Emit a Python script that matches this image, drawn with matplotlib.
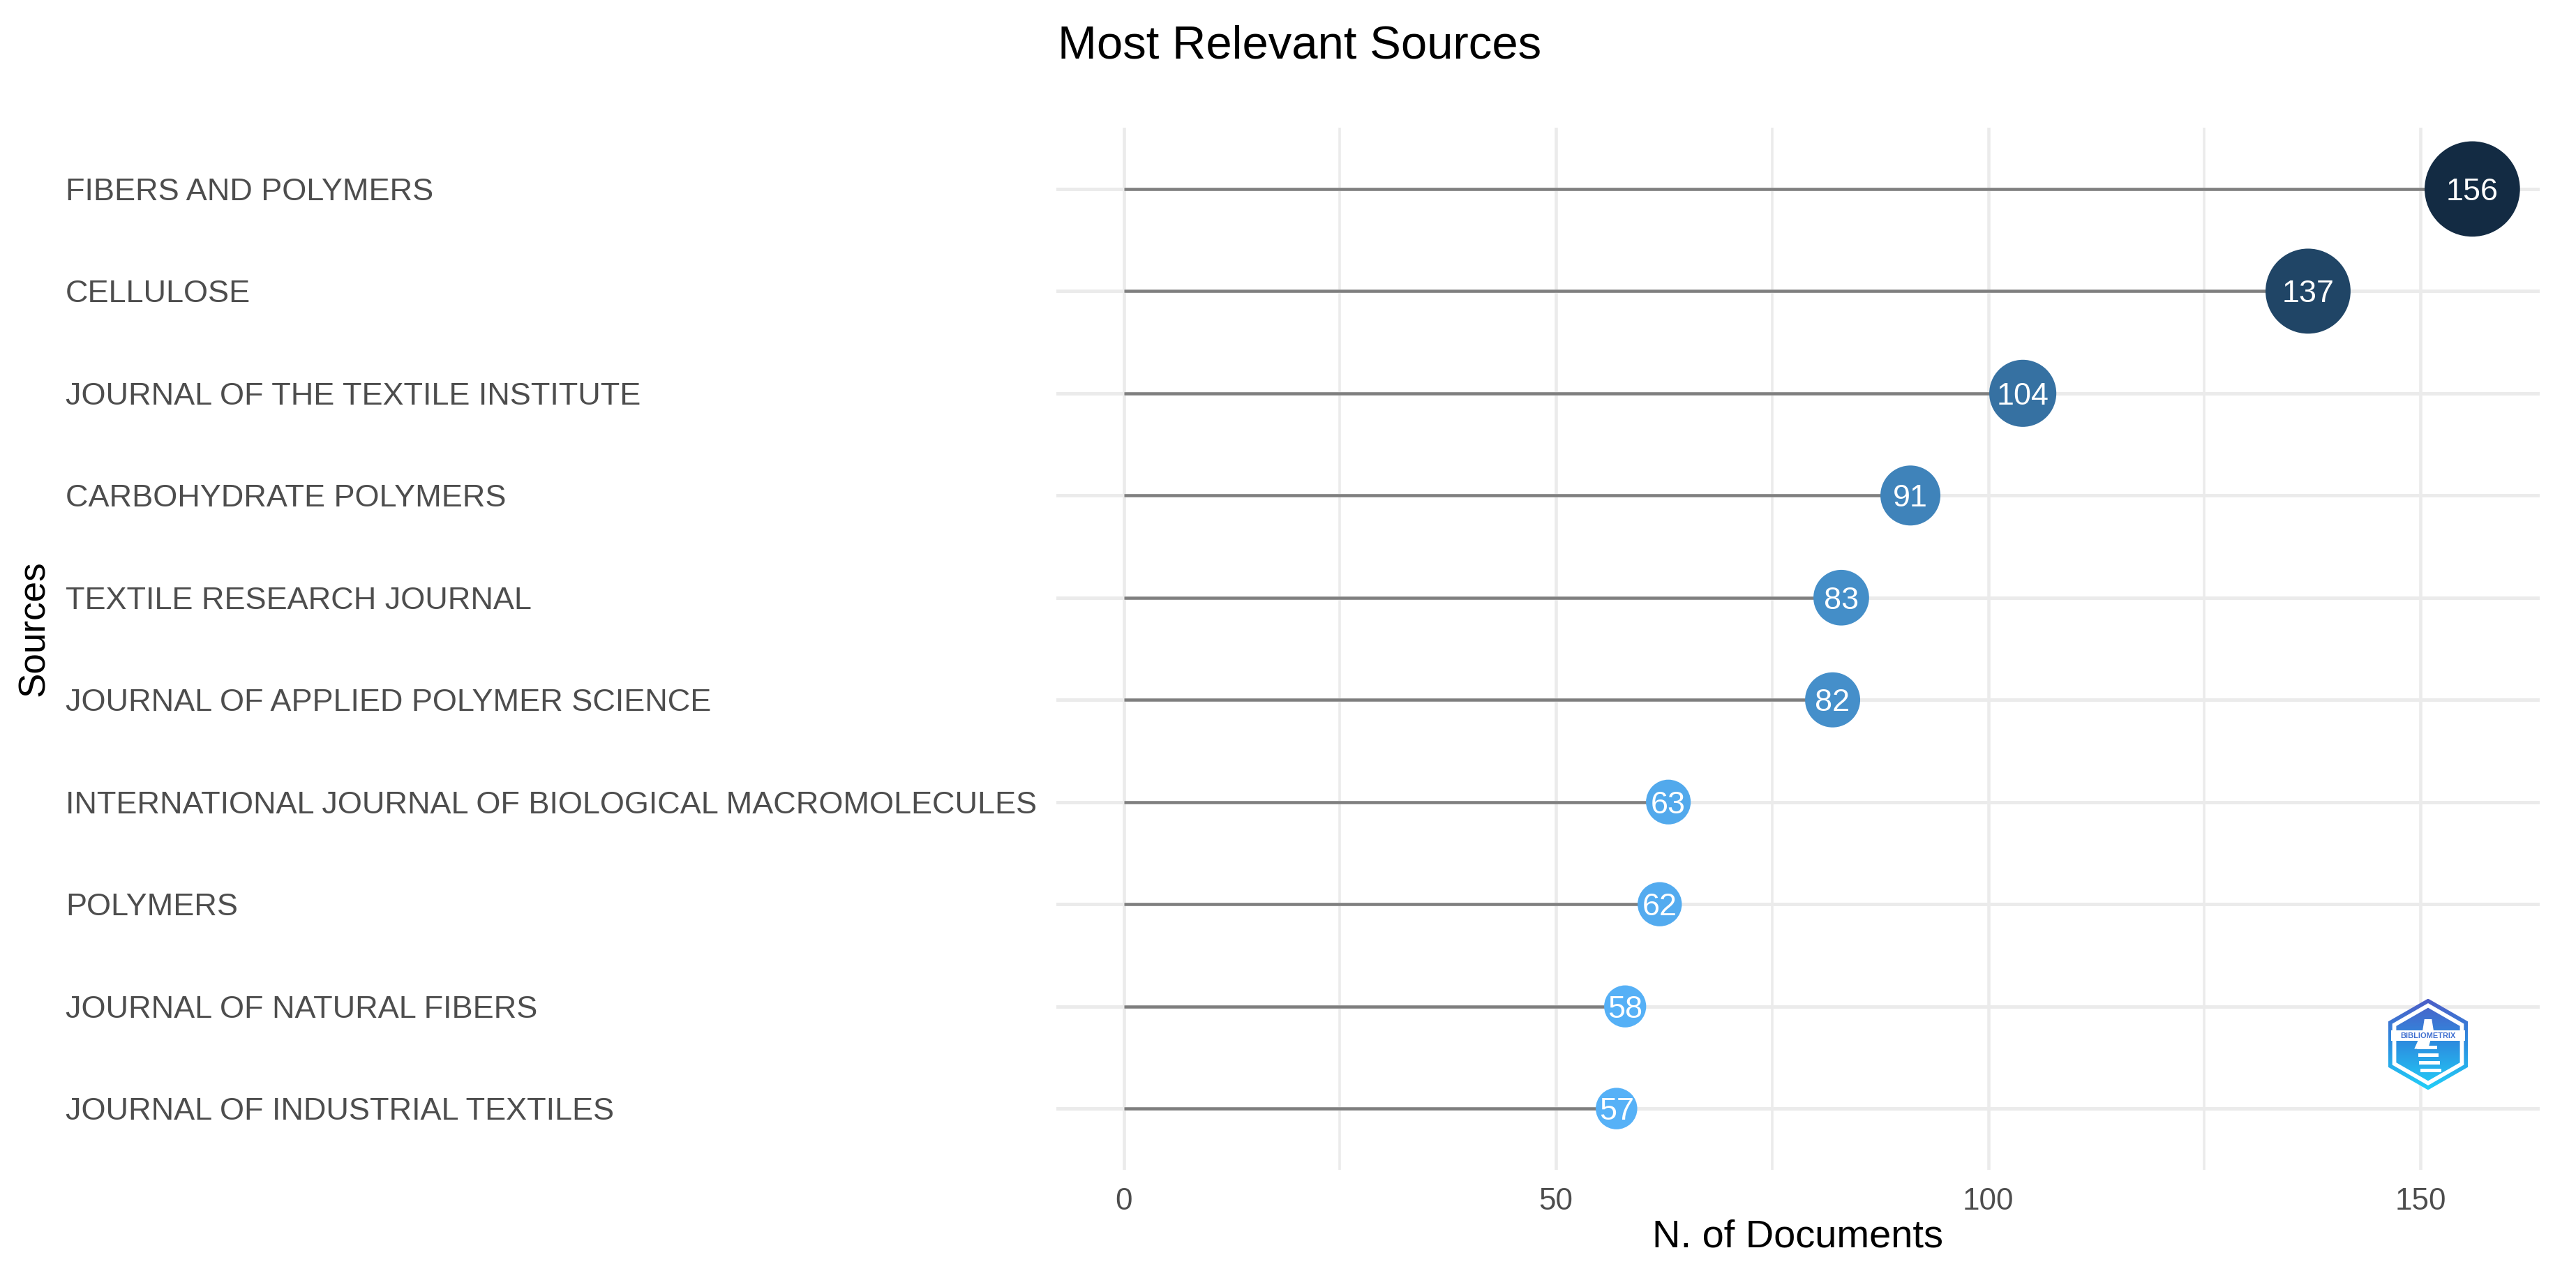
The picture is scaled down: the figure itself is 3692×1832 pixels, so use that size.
import numpy as np
import matplotlib
matplotlib.use("Agg")
import matplotlib.pyplot as plt
import matplotlib.transforms as mtransforms
from matplotlib.colors import LinearSegmentedColormap, Normalize
from matplotlib.patches import Polygon, Rectangle

# ---------------- data ----------------
sources = [
    "FIBERS AND POLYMERS",
    "CELLULOSE",
    "JOURNAL OF THE TEXTILE INSTITUTE",
    "CARBOHYDRATE POLYMERS",
    "TEXTILE RESEARCH JOURNAL",
    "JOURNAL OF APPLIED POLYMER SCIENCE",
    "INTERNATIONAL JOURNAL OF BIOLOGICAL MACROMOLECULES",
    "POLYMERS",
    "JOURNAL OF NATURAL FIBERS",
    "JOURNAL OF INDUSTRIAL TEXTILES",
]
documents = [156, 137, 104, 91, 83, 82, 63, 62, 58, 57]
x_ticks = [0, 50, 100, 150]
x_minor_ticks = [25, 75, 125]
title = "Most Relevant Sources"
x_label = "N. of Documents"
y_label = "Sources"

# ---------------- setup ----------------
plt.rcParams['font.family'] = ['Liberation Sans', 'DejaVu Sans']
W, H = 3692, 1832
DPI = 100
fig = plt.figure(figsize=(W / DPI, H / DPI), dpi=DPI)
fig.patch.set_facecolor('white')


def pt(p):
    """pixels -> points"""
    return p * 72.0 / DPI


L, R, T, B = 1514, 3640, 183, 1677
ax = fig.add_axes([L / W, 1 - B / H, (R - L) / W, (B - T) / H])
n = len(sources)
ypos = np.arange(n)
ax.set_ylim(n - 1 + 0.6, -0.6)
xmax = max(documents)
ax.set_xlim(-0.05 * xmax, 1.05 * xmax)
for s in ax.spines.values():
    s.set_visible(False)

ax.set_xticks(x_ticks)
ax.set_xticks(x_minor_ticks, minor=True)
ax.set_xticklabels([str(t) for t in x_ticks], fontsize=pt(44), color='#4D4D4D')
ax.set_yticks(ypos)
ax.set_yticklabels([])
ax.tick_params(axis='both', which='both', length=0)
ax.tick_params(axis='x', pad=pt(25))

ax.grid(axis='x', which='major', color='#EBEBEB', lw=pt(4.5))
ax.grid(axis='x', which='minor', color='#EBEBEB', lw=pt(3.5))
ax.grid(axis='y', which='major', color='#EBEBEB', lw=pt(5))
ax.set_axisbelow(True)

# segments
ax.hlines(ypos, 0, documents, color='#7F7F7F', lw=pt(4.5), zorder=2)

# points
cmap = LinearSegmentedColormap.from_list('bx', ['#56B1F7', '#132B43'])
norm = Normalize(min(documents), max(documents))
docs = np.array(documents, dtype=float)
diam_px = 15 + 0.78 * docs
ax.scatter(docs, ypos, s=pt(diam_px) ** 2, c=cmap(norm(docs)),
           edgecolors='none', zorder=3)
for v, y in zip(documents, ypos):
    ax.text(v, y, str(v), color='white', ha='center', va='center_baseline',
            fontsize=pt(45), zorder=4)

# y labels, left aligned
trans = mtransforms.blended_transform_factory(fig.transFigure, ax.transData)
for lab, y in zip(sources, ypos):
    ax.text(94 / W, y, lab, transform=trans, ha='left', va='center_baseline',
            fontsize=pt(45), color='#4D4D4D', clip_on=False)

# titles
fig.text(1516 / W, 1 - 66 / H, title, ha='left', va='center',
         fontsize=pt(67), color='black')
fig.text(2577 / W, 1 - 1773 / H, x_label, ha='center', va='center',
         fontsize=pt(56), color='black')
fig.text(49 / W, 1 - 901 / H, y_label, ha='center', va='center',
         rotation=90, fontsize=pt(53), color='black')

# ---------------- logo ----------------
lw_px, lh_px = 114, 131
cx, cy = 3480, 1497
lax = fig.add_axes([(cx - lw_px / 2) / W, 1 - (cy + lh_px / 2) / H, lw_px / W, lh_px / H])
lax.set_xlim(-np.sqrt(3) / 2, np.sqrt(3) / 2)
lax.set_ylim(-1, 1)
lax.axis('off')


def hexagon(r):
    ang = np.deg2rad(90 + 60 * np.arange(6))
    return np.column_stack([r * np.cos(ang), r * np.sin(ang)])


grad_cmap = LinearSegmentedColormap.from_list('lg', ['#22CFF8', '#2C8FE0', '#4E5CC6'])
grad = np.linspace(0, 1, 256).reshape(-1, 1)
ext = (-1, 1, -1, 1)
outer = Polygon(hexagon(1.0), closed=True, transform=lax.transData, facecolor='none', edgecolor='none')
lax.add_patch(outer)
im1 = lax.imshow(grad, cmap=grad_cmap, extent=ext, origin='lower', aspect='auto', zorder=1)
im1.set_clip_path(outer)
lax.add_patch(Polygon(hexagon(0.9), closed=True, facecolor='white', edgecolor='none', zorder=2))
inner = Polygon(hexagon(0.8), closed=True, transform=lax.transData, facecolor='none', edgecolor='none')
lax.add_patch(inner)
im2 = lax.imshow(grad, cmap=grad_cmap, extent=ext, origin='lower', aspect='auto', zorder=3)
im2.set_clip_path(inner)
lax.add_patch(Rectangle((-0.8, 0.08), 1.6, 0.22, facecolor='white', edgecolor='none', zorder=4))
lax.text(0, 0.19, "BIBLIOMETRIX", ha='center', va='center', fontsize=pt(11),
         color='#3F6FD0', fontweight='bold', zorder=5)
lax.add_patch(Polygon([[-0.08, 0.55], [0.08, 0.55], [0.12, 0.3], [-0.12, 0.3]],
                      closed=True, facecolor='white', edgecolor='none', zorder=4))
for k in range(4):
    yy = -0.05 - k * 0.17
    lax.add_patch(Rectangle((-0.25 + 0.03 * k, yy - 0.05), 0.45, 0.07,
                            facecolor='white', edgecolor='none', zorder=4))
lax.add_patch(Polygon([[-0.22, 0.08], [0.05, 0.08], [0.0, -0.1], [-0.3, -0.1]],
                      closed=True, facecolor='white', edgecolor='none', zorder=4))

fig.savefig('out.png', dpi=DPI, facecolor='white')
